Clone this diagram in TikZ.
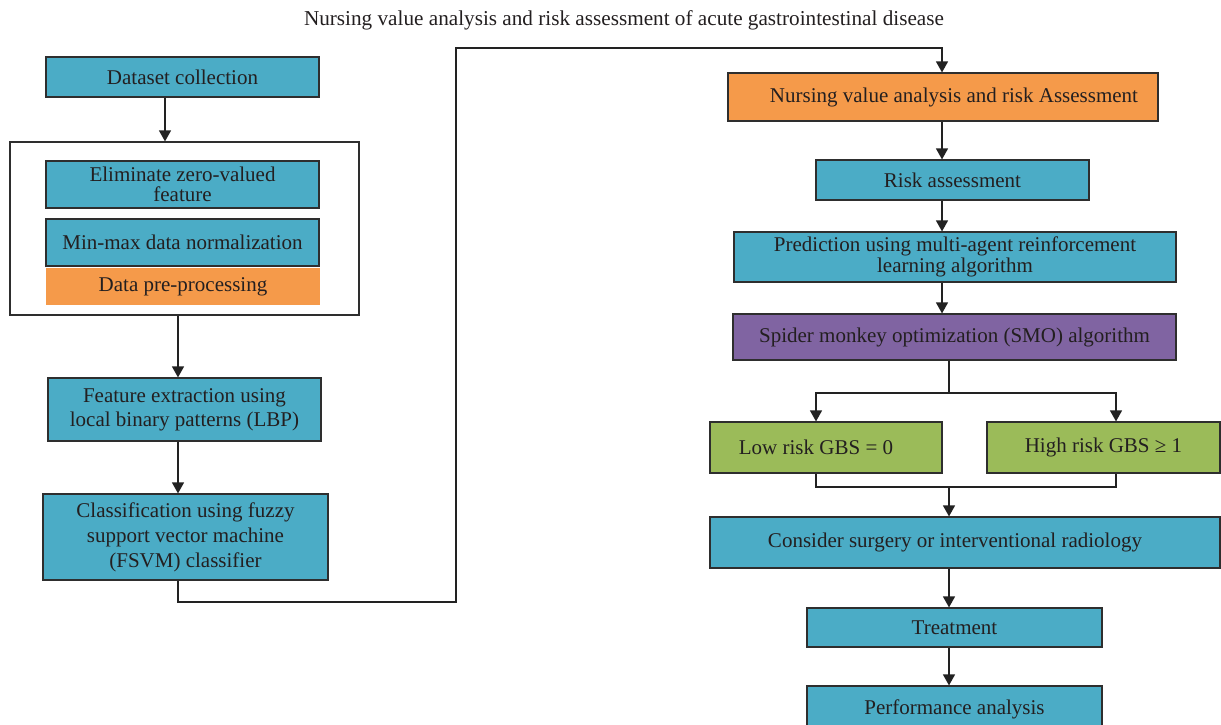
\documentclass[tikz,border=0pt]{standalone}
\usepackage{fontspec}
\setmainfont{Liberation Serif}
\usetikzlibrary{arrows.meta}
\definecolor{boxblue}{HTML}{4BACC6}
\definecolor{boxorange}{HTML}{F59A4A}
\definecolor{boxpurple}{HTML}{8064A2}
\definecolor{boxgreen}{HTML}{9BBB59}
\definecolor{edgec}{HTML}{2E2E2E}
\definecolor{linec}{HTML}{222222}
\definecolor{txt}{HTML}{231F20}
\tikzset{
  wh/.style 2 args={minimum width=#1pt, minimum height=#2pt},
  bx/.style={draw=edgec, line width=1.2pt, inner sep=0pt, align=center,
    text=txt, font=\fontsize{21}{23}\selectfont},
  bluebx/.style={bx, fill=boxblue},
  orangebx/.style={bx, fill=boxorange},
  purplebx/.style={bx, fill=boxpurple},
  greenbx/.style={bx, fill=boxgreen},
  arr/.style={-{Triangle[length=11pt,width=12pt]}, line width=1.3pt, draw=linec},
  ln/.style={line width=1.3pt, draw=linec},
}
\begin{document}
\begin{tikzpicture}[x=1pt,y=-1pt]
\clip (0,0) rectangle (1221,724);
\fill[white] (0,0) rectangle (1221,724);

% title
\node[text=txt, font=\fontsize{21.2}{23}\selectfont, inner sep=0pt] (title) at (624,20) {Nursing value analysis and risk assessment of acute gastrointestinal disease};

% left column
\node[bluebx, wh={273}{40}] (ds) at (182.5,77) {Dataset collection};
\node[draw=edgec, line width=1.2pt, fill=white, wh={349}{173}, inner sep=0pt] (outer) at (184.5,228.5) {};
\node[bluebx, wh={273}{47}, font=\fontsize{21}{20.5}\selectfont] (elim) at (182.5,184.5) {Eliminate zero-valued\\feature};
\node[bluebx, wh={273}{47}] (mm) at (182.5,242.5) {Min-max data normalization};
\node[bx, draw=none, fill=boxorange, wh={274}{37}] (pre) at (183,286.5) {Data pre-processing};
\node[bluebx, wh={273}{63}, font=\fontsize{21}{24}\selectfont] (feat) at (184.5,409.5) {Feature extraction using\\local binary patterns (LBP)};
\node[bluebx, wh={285}{86}, font=\fontsize{21}{25}\selectfont] (cls) at (185.5,537) {Classification using fuzzy\\support vector machine\\(FSVM) classifier};

% right column
\node[orangebx, wh={430}{48}] (nva) at (943,97) {\hspace*{22pt}Nursing value analysis and risk Assessment};
\node[bluebx, wh={273}{40}] (risk) at (952.5,180) {Risk assessment};
\node[bluebx, wh={442}{50}, font=\fontsize{21}{20.5}\selectfont] (pred) at (955,257) {Prediction using multi-agent reinforcement\\learning algorithm};
\node[purplebx, wh={443}{46}] (smo) at (954.5,337) {Spider monkey optimization (SMO) algorithm};
\node[greenbx, wh={232}{51}] (low) at (826,447.5) {Low risk GBS = 0\hspace*{20pt}};
\node[greenbx, wh={233}{51}] (high) at (1103.5,447.5) {High risk GBS ≥ 1};
\node[bluebx, wh={510}{51}] (cons) at (965,542.5) {Consider surgery or interventional radiology\hspace*{20pt}};
\node[bluebx, wh={295}{39}] (treat) at (954.5,627.5) {Treatment};
\node[bluebx, wh={295}{46}] (perf) at (954.5,709) {Performance analysis};

% helper coordinates
\coordinate (xa) at (165,0);
\coordinate (xb) at (178,0);
\coordinate (ya) at (0,602);
\coordinate (xc) at (456,0);
\coordinate (yb) at (0,48);
\coordinate (xd) at (942,0);
\coordinate (xe) at (949,0);
\coordinate (ysplit) at (0,393);
\coordinate (yjoin) at (0,487);
\coordinate (xl) at (816,0);
\coordinate (xh) at (1116,0);

% left connectors
\draw[arr] (ds.south -| xa) -- (outer.north -| xa);
\draw[arr] (outer.south -| xb) -- (feat.north -| xb);
\draw[arr] (feat.south -| xb) -- (cls.north -| xb);
\draw[arr] (cls.south -| xb) -- (xb |- ya) -- (xc |- ya) -- (xc |- yb) -- (xd |- yb) -- (nva.north -| xd);

% right connectors
\draw[arr] (nva.south -| xd) -- (risk.north -| xd);
\draw[arr] (risk.south -| xd) -- (pred.north -| xd);
\draw[arr] (pred.south -| xd) -- (smo.north -| xd);
\draw[ln] (smo.south -| xe) -- (xe |- ysplit);
\draw[arr] (xe |- ysplit) -- (xl |- ysplit) -- (low.north -| xl);
\draw[arr] (xe |- ysplit) -- (xh |- ysplit) -- (high.north -| xh);
\draw[ln] (low.south -| xl) -- (xl |- yjoin) -- (xh |- yjoin) -- (high.south -| xh);
\draw[arr] (xe |- yjoin) -- (cons.north -| xe);
\draw[arr] (cons.south -| xe) -- (treat.north -| xe);
\draw[arr] (treat.south -| xe) -- (perf.north -| xe);
\end{tikzpicture}
\end{document}
